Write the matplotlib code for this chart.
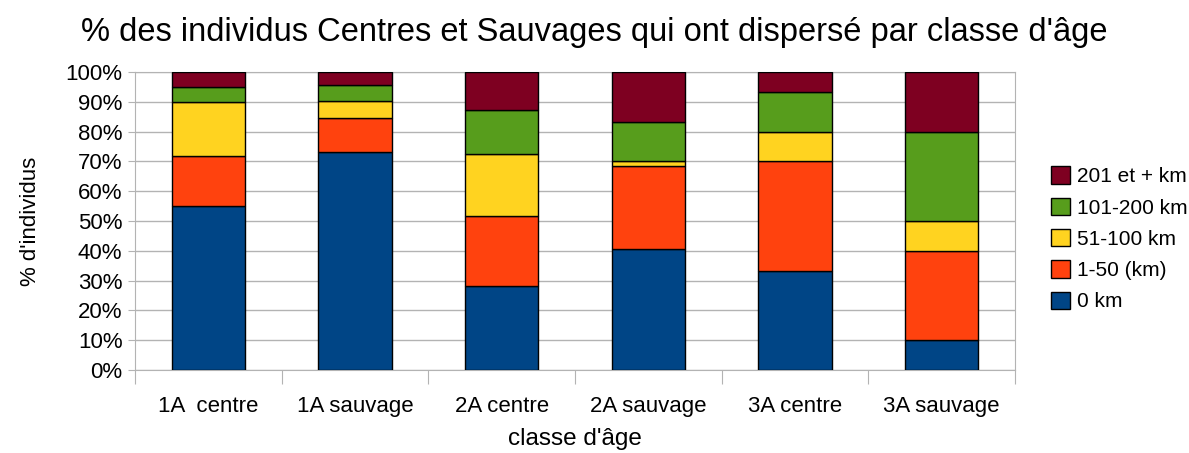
import matplotlib.pyplot as plt
import numpy as np

plt.rcParams['font.family'] = ['Liberation Sans', 'DejaVu Sans']

categories = ['1A  centre', '1A sauvage', '2A centre', '2A sauvage', '3A centre', '3A sauvage']
series_names = ['0 km', '1-50 (km)', '51-100 km', '101-200 km', '201 et + km']
km0 = [55.2, 73.3, 28.3, 40.5, 33.3, 10.0]
km1_50 = [16.5, 11.1, 23.3, 27.9, 36.7, 30.0]
km51_100 = [18.4, 6.0, 21.0, 1.9, 10.0, 10.0]
km101_200 = [5.0, 5.1, 14.6, 13.0, 13.3, 30.0]
km201 = [4.9, 4.5, 12.8, 16.7, 6.7, 20.0]
colors = ['#004586', '#ff420e', '#ffd320', '#579d1c', '#7e0021']

fig = plt.figure(figsize=(11.89, 4.53), dpi=100)
ax = fig.add_axes([135 / 1189, 1 - 370 / 453, (1015 - 135) / 1189, (370 - 72) / 453])

x = np.arange(len(categories))
bottom = np.zeros(len(categories))
handles = []
for name, vals, c in zip(series_names, [km0, km1_50, km51_100, km101_200, km201], colors):
    b = ax.bar(x, vals, 0.5, bottom=bottom, color=c, edgecolor='black', linewidth=1, label=name, zorder=3)
    handles.append(b)
    bottom += np.array(vals)

ax.set_xlim(-0.5, len(categories) - 0.5)
ax.set_ylim(0, 100)
ax.set_yticks(np.arange(0, 101, 10))
ax.set_yticklabels([f'{v}%' for v in range(0, 101, 10)], fontsize=16)
ax.yaxis.grid(True, color='#b3b3b3', linewidth=1, zorder=0)

# ticks between categories
ax.set_xticks(np.arange(-0.5, len(categories), 1))
ax.set_xticklabels([])
ax.set_xticks(x, minor=True)
ax.set_xticklabels(categories, minor=True, fontsize=16)
ax.tick_params(axis='x', which='major', length=10, color='#b3b3b3')
ax.tick_params(axis='x', which='minor', length=0, pad=19)
ax.tick_params(axis='y', length=5, color='#b3b3b3', pad=4)

for s in ax.spines.values():
    s.set_color('#b3b3b3')

ax.set_xlabel("classe d'âge", fontsize=17.5, labelpad=8)
ax.set_ylabel("% d'individus", fontsize=16, labelpad=18)
fig.text(0.5, 1 - 32 / 453, "% des individus Centres et Sauvages qui ont dispersé par classe d'âge",
         fontsize=23.5, ha='center', va='center')

ax.legend(handles[::-1], series_names[::-1], loc='center left', bbox_to_anchor=(1.02, 0.44),
          frameon=False, fontsize=15, handlelength=0.9, handleheight=0.9, labelspacing=0.55,
          handletextpad=0.35)

fig.savefig('out.png', dpi=100)
